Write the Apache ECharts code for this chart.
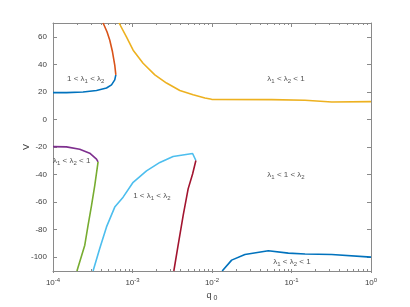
<!DOCTYPE html>
<html><head><meta charset="utf-8">
<script src="https://cdn.jsdelivr.net/npm/echarts@6/dist/echarts.min.js"></script>
<style>html,body{margin:0;padding:0;background:#fff}#c{width:410px;height:307px}</style>
</head><body><div id="c"></div>
<script>
// ---- data (q0, V) ----
const blueTopQ = [1.0e-4, 1.476e-4, 2.388e-4, 3.524e-4, 4.71e-4, 5.445e-4, 5.98e-4, 6.17e-4];
const blueTopV = [19.5, 19.5, 19.9, 21, 22.8, 25.1, 28.7, 32.3];
const orangeQ = [6.17e-4, 5.98e-4, 5.6e-4, 5.18e-4, 4.79e-4, 4.27e-4];
const orangeV = [32.3, 39.5, 49.1, 57.5, 63.5, 70];
const yellowQ = [6.78e-4, 8.39e-4, 1.019e-3, 1.358e-3, 1.91e-3, 2.68e-3, 3.94e-3, 5.79e-3, 8.15e-3, 9.89e-3, 0.0564, 0.148, 0.321, 1];
const yellowV = [70, 59.9, 50.3, 40.8, 32.3, 26.4, 21, 17.9, 15.6, 14.6, 14.4, 13.9, 12.7, 12.9];
const purpleQ = [1e-4, 1.476e-4, 2.168e-4, 2.897e-4, 3.524e-4, 3.69e-4];
const purpleV = [-19.7, -19.9, -21.6, -24.5, -28.8, -30.8];
const greenQ = [3.69e-4, 3.35e-4, 3.05e-4, 2.76e-4, 2.51e-4, 2.0e-4];
const greenV = [-30.8, -48, -62.5, -76.9, -91.3, -110];
const cyanQ = [3.19e-4, 3.87e-4, 4.71e-4, 5.98e-4, 7.62e-4, 1.019e-3, 1.5e-3, 2.21e-3, 3.24e-3, 5.70e-3, 6.27e-3];
const cyanV = [-110, -93.6, -78, -63.6, -56.4, -45.6, -37.3, -31.2, -26.9, -24.7, -29.8];
const maroonQ = [3.31e-3, 3.75e-3, 4.34e-3, 5.01e-3, 5.70e-3, 6.27e-3];
const maroonV = [-110, -91.3, -69.7, -50.4, -39.6, -29.8];
const blueLowQ = [0.01343, 0.01766, 0.02594, 0.0511, 0.0912, 0.148, 0.321, 1];
const blueLowV = [-110, -102.1, -98, -95.3, -97, -97.7, -98, -99.9];

// region labels
const regionQ = [2.58e-4, 0.0853, 1.72e-4, 1.75e-3, 0.0853, 0.1014];
const regionV = [29.5, 29.5, -30.3, -55.5, -40.4, -103];
const regionKind = ['gt', 'lt', 'lt', 'gt', 'mid', 'lt'];

// ticks
const xMajor = [1e-4, 1e-3, 1e-2, 1e-1, 1];
const xMinor = [];
for (let d = -4; d < 0; d++) for (let m = 2; m <= 9; m++) xMinor.push(m * Math.pow(10, d));
const yTicks = [-100, -80, -60, -40, -20, 0, 20, 40, 60];

const zip = (a, b) => a.map((v, i) => [v, b[i]]);
const axisCol = '#8a8a8a';
const txtCol = '#404040';
const FONT = 'Liberation Sans, Arial, sans-serif';

const richText = {
  t: {fontSize: 8, color: '#262626', fontFamily: FONT},
  s: {fontSize: 6, color: '#262626', fontFamily: FONT, padding: [5, 0, 0, 0]}
};
const labelText = {
  gt: '{t|1 < λ}{s|1}{t| < λ}{s|2}',
  lt: '{t|λ}{s|1}{t| < λ}{s|2}{t| < 1}',
  mid: '{t|λ}{s|1}{t| < 1 < λ}{s|2}'
};

function line(q, v, color) {
  return {type: 'line', data: zip(q, v), showSymbol: false, symbol: 'none',
    lineStyle: {color: color, width: 1.6}, animation: false, z: 3};
}

function xAx(gridIndex, position, ticks, len, showLine) {
  return {
    type: 'log', logBase: 10, min: 1e-4, max: 1, gridIndex: gridIndex, position: position,
    axisLine: {show: showLine, onZero: false, lineStyle: {color: axisCol, width: 1}},
    axisTick: {show: true, inside: true, length: len, customValues: ticks, lineStyle: {color: axisCol}},
    axisLabel: {show: false},
    splitLine: {show: false}, minorTick: {show: false}
  };
}
function yAx(gridIndex, position, show) {
  return {
    type: 'value', min: -110, max: 70, gridIndex: gridIndex, position: position, show: show,
    axisLine: {show: true, onZero: false, lineStyle: {color: axisCol, width: 1}},
    axisTick: {show: true, inside: true, length: 4, customValues: yTicks, lineStyle: {color: axisCol}},
    axisLabel: {show: false},
    splitLine: {show: false}
  };
}

const xBottom = xAx(0, 'bottom', xMinor, 2, true);
xBottom.name = '{q|q}{z| 0}';
xBottom.nameLocation = 'middle';
xBottom.nameGap = 18;
xBottom.nameMoveOverlap = false;
xBottom.nameTextStyle = {rich: {q: {fontSize: 9, color: txtCol, fontFamily: FONT}, z: {fontSize: 7, color: txtCol, fontFamily: FONT, padding: [6, 0, 0, 0]}}};
xBottom.axisLabel = {show: true, customValues: xMajor, margin: 6,
  formatter: function (v) { const e = Math.round(Math.log10(v)); return '{b|10}{p|' + e + '}'; },
  rich: {b: {fontSize: 8, color: txtCol, fontFamily: FONT}, p: {fontSize: 6, color: txtCol, fontFamily: FONT, padding: [0, 0, 6, 0]}}};

const yLeft = yAx(0, 'left', true);
yLeft.name = 'V';
yLeft.nameLocation = 'middle';
yLeft.nameGap = 22;
yLeft.nameMoveOverlap = false;
yLeft.nameTextStyle = {fontSize: 9, color: txtCol, fontFamily: FONT};
yLeft.axisLabel = {show: true, customValues: yTicks, fontSize: 8, color: txtCol, fontFamily: FONT, margin: 6};

const gridBox = {left: 53, right: 39, top: 23, bottom: 34, containLabel: false};

const chart = echarts.init(document.getElementById('c'), null, {renderer: 'canvas'});
chart.setOption({
  animation: false,
  backgroundColor: '#fff',
  grid: [Object.assign({}, gridBox), Object.assign({}, gridBox)],
  xAxis: [
    xBottom,
    xAx(0, 'top', xMinor, 2, true),
    xAx(1, 'bottom', xMajor, 4, false),
    xAx(1, 'top', xMajor, 4, false)
  ],
  yAxis: [
    yLeft,
    yAx(0, 'right', true),
    yAx(1, 'left', false)
  ],
  series: [
    line(blueTopQ, blueTopV, '#0072BD'),
    line(orangeQ, orangeV, '#D95319'),
    line(yellowQ, yellowV, '#EDB120'),
    line(purpleQ, purpleV, '#7E2F8E'),
    line(greenQ, greenV, '#77AC30'),
    line(cyanQ, cyanV, '#4DBEEE'),
    line(maroonQ, maroonV, '#A2142F'),
    line(blueLowQ, blueLowV, '#0072BD'),
    {
      type: 'scatter', symbolSize: 0, z: 5, animation: false, silent: true,
      data: regionQ.map((q, i) => ({value: [q, regionV[i]], kind: regionKind[i]})),
      label: {show: true, position: 'inside', rich: richText,
        formatter: function (p) { return labelText[p.data.kind]; }}
    }
  ]
});
</script></body></html>
